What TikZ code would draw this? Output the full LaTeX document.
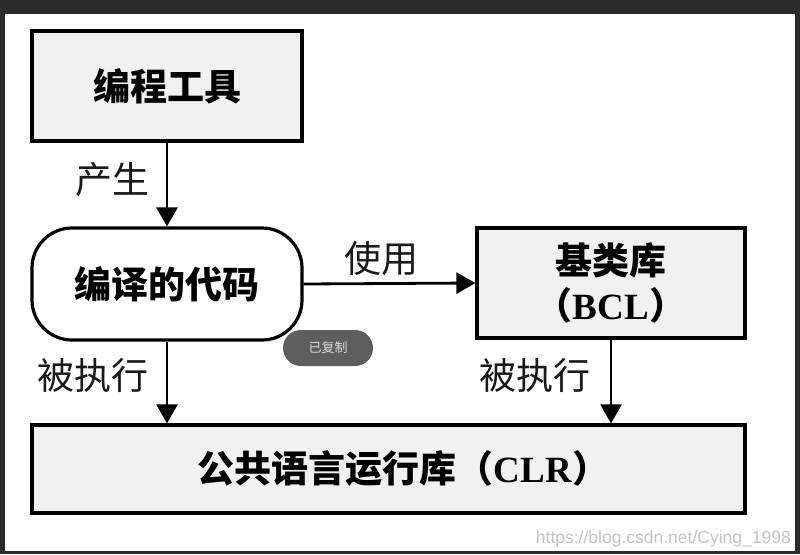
\documentclass[tikz,border=0pt]{standalone}
\usepackage{fontspec}
\newfontfamily\cjk{Noto Sans CJK SC}
\newfontfamily\lat{Liberation Serif}
\newfontfamily\arialf{Liberation Sans}
\usetikzlibrary{arrows.meta}
\definecolor{frame}{HTML}{2B2B2B}
\definecolor{boxfill}{HTML}{F1F1F1}
\definecolor{pill}{HTML}{5E5E5E}
\definecolor{wm}{HTML}{C4C4C4}
\tikzset{
  box/.style={draw=black, line width=3.2pt, fill=boxfill, minimum width=#1, inner sep=0pt, font=\cjk\bfseries\fontsize{37}{44}\selectfont, align=center},
  conn/.style={line width=2.8pt, -{Triangle[length=19pt,width=21pt]}},
  lab/.style={font=\cjk\fontsize{37}{44}\selectfont, text=black!90, inner sep=0pt}
}
\begin{document}
\begin{tikzpicture}[x=1pt,y=-1pt]
\fill[frame] (0,0) rectangle (800,554);
\fill[white] (5,14) rectangle (795,551);
\useasboundingbox (0,0) rectangle (800,554);

\node[box=270pt, minimum height=110pt] (tool) at (167,86) {编程工具};
\node[box=270pt, minimum height=112pt, rounded corners=40pt, fill=white] (code) at (167,284) {编译的代码};
\node[box=268pt, minimum height=110pt] (bcl) at (611,283) {基类库\\[1pt]（{\lat\bfseries BCL}）};
\node[box=713pt, minimum height=88pt] (clr) at (388.5,469) {\hspace*{30pt}公共语言运行库（{\lat\bfseries CLR}）};

\draw[conn] (tool.south) -- (code.north);
\draw[conn] (code.east) -- (bcl.west);
\draw[conn] (code.south) -- (code.south |- clr.north);
\draw[conn] (bcl.south) -- (bcl.south |- clr.north);

\node[lab] (l1) at (112,180) {产生};
\node[lab] (l2) at (381,258) {使用};
\node[lab] (l3) at (93,375) {被执行};
\node[lab] (l4) at (535,375) {被执行};

\node[fill=pill, rounded corners=18pt, minimum width=90pt, minimum height=36pt, inner sep=0pt, text=white!85!black, font=\cjk\fontsize{13}{15}\selectfont] (copied) at (328,348) {已复制};
\node[anchor=east, text=wm, inner sep=0pt, font=\arialf\fontsize{17.5}{20}\selectfont] (wmark) at (791,539) {https://blog.csdn.net/Cying\_1998};
\end{tikzpicture}
\end{document}
